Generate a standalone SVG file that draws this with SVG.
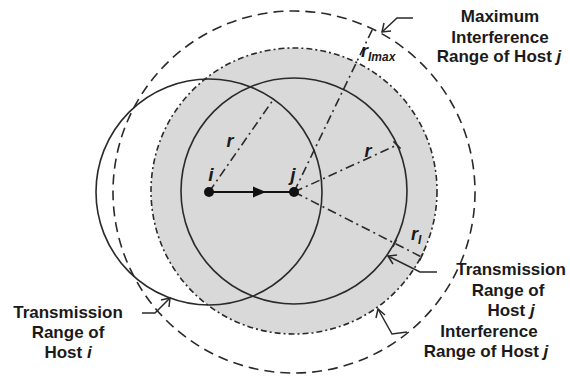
<svg xmlns="http://www.w3.org/2000/svg" width="570" height="376" viewBox="0 0 570 376">
<style>
.lbl{font-family:"Liberation Sans",Arial,sans-serif;font-size:17px;font-weight:bold;fill:#1a1a1a;text-anchor:middle}
.it{font-family:"Liberation Sans",Arial,sans-serif;font-style:italic;font-weight:bold;fill:#1a1a1a}
.solid{fill:none;stroke:#2a2a2a;stroke-width:1.6}
.dashdot{fill:none;stroke:#2a2a2a;stroke-width:1.6;stroke-dasharray:9 4 2 4}
.lead{fill:none;stroke:#2a2a2a;stroke-width:1.5}
</style>
<rect width="570" height="376" fill="#ffffff"/>
<g id="max-interference-range">
<circle cx="294" cy="192" r="181" fill="none" stroke="#2a2a2a" stroke-width="1.6" stroke-dasharray="10 6"/>
</g>
<g id="interference-range-j">
<circle cx="294" cy="191" r="143" fill="#d9d9d9" stroke="#2a2a2a" stroke-width="1.6" stroke-dasharray="6 3 2 3"/>
</g>
<g id="transmission-range-i">
<circle cx="209" cy="192" r="113" class="solid"/>
</g>
<g id="transmission-range-j">
<circle cx="294" cy="191" r="113" class="solid"/>
</g>
<g id="connectors">
<line x1="209" y1="192" x2="273" y2="100" class="dashdot"/>
<line x1="294" y1="192" x2="372.6" y2="29" class="dashdot"/>
<line x1="294" y1="192" x2="397" y2="145" class="dashdot"/>
<line x1="393.4" y1="141.4" x2="400.6" y2="148.6" class="lead"/>
<line x1="294" y1="192" x2="421.4" y2="256.9" class="dashdot"/>
<line x1="392.9" y1="247" x2="396.5" y2="239.6" class="lead"/>
<line x1="419.6" y1="260.6" x2="423.2" y2="253.2" class="lead"/>
<line x1="209" y1="192" x2="294" y2="192" stroke="#111" stroke-width="2"/>
<polygon points="266,192 253,186.5 253,197.5" fill="#111"/>
<polyline points="413,18 397,18 382,32" class="lead"/>
<polyline points="384,23 382,32 391,31" class="lead"/>
<polyline points="142,313 155,313 170,298" class="lead"/>
<polyline points="161,300 170,298 169,307" class="lead"/>
<polyline points="437,272 420,272 388,256" class="lead"/>
<polyline points="397,255 388,256 393,264" class="lead"/>
<polyline points="407,332 392,334 378,309" class="lead"/>
<polyline points="376,318 378,309 385,315" class="lead"/>
</g>
<g id="node-i">
<circle cx="209" cy="192" r="5" fill="#111"/>
<text x="211" y="181" class="it" font-size="19" text-anchor="middle">i</text>
</g>
<g id="node-j">
<circle cx="294" cy="192" r="5" fill="#111"/>
<text x="293" y="181" class="it" font-size="19" text-anchor="middle">j</text>
</g>
<g id="radius-labels">
<text x="230" y="147" class="it" font-size="18" text-anchor="middle">r</text>
<text x="368" y="157" class="it" font-size="18" text-anchor="middle">r</text>
<text x="361" y="57" class="it" font-size="18">r<tspan font-size="12" dy="4">Imax</tspan></text>
<text x="411" y="240" class="it" font-size="18">r<tspan font-size="12" dy="4">I</tspan></text>
</g>
<g id="label-max">
<text class="lbl" x="500" y="22">Maximum</text>
<text class="lbl" x="500" y="43">Interference</text>
<text class="lbl" x="499" y="62">Range of Host <tspan font-style="italic">j</tspan></text>
</g>
<g id="label-trans-j">
<text class="lbl" x="511" y="275">Transmission</text>
<text class="lbl" x="508" y="296">Range of</text>
<text class="lbl" x="511" y="316">Host <tspan font-style="italic">j</tspan></text>
</g>
<g id="label-interf-j">
<text class="lbl" x="489" y="337">Interference</text>
<text class="lbl" x="486" y="357">Range of Host <tspan font-style="italic">j</tspan></text>
</g>
<g id="label-trans-i">
<text class="lbl" x="68" y="318">Transmission</text>
<text class="lbl" x="68" y="338">Range of</text>
<text class="lbl" x="68" y="358">Host <tspan font-style="italic">i</tspan></text>
</g>
</svg>
